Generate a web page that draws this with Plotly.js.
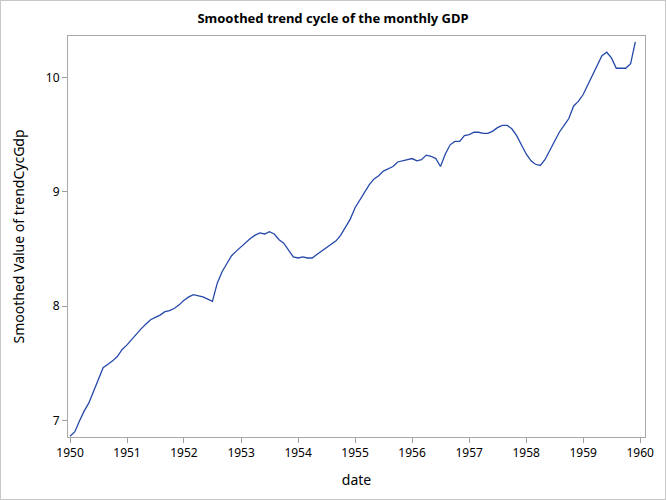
<!DOCTYPE html>
<html>
<head>
<meta charset="utf-8">
<script src="https://cdn.plot.ly/plotly-3.0.1.min.js"></script>
<style>
  body { margin: 0; }
  #wrap { position: relative; width: 666px; height: 500px; }
  #myDiv { width: 666px; height: 500px; }
  #frame { position: absolute; left: 0; top: 0; width: 664px; height: 498px;
           border: 1px solid #c8c8c8; pointer-events: none; }
</style>
</head>
<body>
<div id="wrap">
  <div id="myDiv"></div>
  <div id="frame"></div>
</div>
<script>
// monthly smoothed trend cycle, Jan 1950 .. Dec 1959
var startYear = 1950;
var trendCycGdp = [
  6.86, 6.90, 6.99, 7.08, 7.15, 7.25, 7.36, 7.46, 7.49, 7.52, 7.56, 7.62,  // 1950
  7.66, 7.71, 7.76, 7.80, 7.84, 7.88, 7.90, 7.92, 7.95, 7.96, 7.98, 8.01,  // 1951
  8.05, 8.08, 8.10, 8.09, 8.08, 8.06, 8.04, 8.20, 8.30, 8.37, 8.44, 8.48,  // 1952
  8.52, 8.56, 8.59, 8.62, 8.64, 8.63, 8.65, 8.63, 8.58, 8.55, 8.49, 8.43,  // 1953
  8.42, 8.43, 8.42, 8.42, 8.45, 8.48, 8.51, 8.54, 8.57, 8.62, 8.69, 8.76,  // 1954
  8.86, 8.93, 8.99, 9.06, 9.11, 9.14, 9.18, 9.20, 9.22, 9.26, 9.27, 9.28,  // 1955
  9.29, 9.27, 9.28, 9.32, 9.31, 9.29, 9.22, 9.33, 9.41, 9.44, 9.44, 9.49,  // 1956
  9.50, 9.52, 9.52, 9.51, 9.51, 9.53, 9.56, 9.58, 9.58, 9.55, 9.49, 9.41,  // 1957
  9.33, 9.27, 9.24, 9.23, 9.28, 9.36, 9.44, 9.52, 9.58, 9.64, 9.75, 9.79,  // 1958
  9.85, 9.94, 10.02, 10.11, 10.19, 10.22, 10.17, 10.08, 10.08, 10.08, 10.12, 10.31  // 1959
];
var yTicks = [7, 8, 9, 10];

var dates = [];
for (var i = 0; i < trendCycGdp.length; i++) {
    var yr = startYear + Math.floor(i / 12);
    var mo = (i % 12) + 1;
    dates.push(yr + '-' + (mo < 10 ? '0' + mo : mo) + '-01');
}

var trace1 = {
    x: dates,
    y: trendCycGdp,
    type: 'scatter',
    mode: 'lines',
    line: { color: '#2548aa', width: 1.3 },
    hoverinfo: 'skip'
};

var fam = '"Noto Sans", "Open Sans", sans-serif';
var axisFont = { family: fam, size: 12, color: '#000' };

var layout = {
    width: 666,
    height: 500,
    margin: { l: 68, r: 21, t: 36, b: 63 },
    paper_bgcolor: '#fff',
    plot_bgcolor: '#fff',
    showlegend: false,
    title: {
        text: '<b>Smoothed trend cycle of the monthly GDP</b>',
        font: { family: fam, size: 13, color: '#000' },
        x: 0.5, xanchor: 'center',
        y: 0.964, yanchor: 'middle'
    },
    xaxis: {
        type: 'date',
        range: ['1949-12-19', '1960-02-01'],
        tick0: '1950-01-01',
        dtick: 'M12',
        tickformat: '%Y',
        ticks: 'outside',
        ticklen: 5,
        tickcolor: '#a0a0a0',
        tickfont: axisFont,
        showgrid: false,
        zeroline: false,
        showline: true,
        linecolor: '#a8a8a8',
        linewidth: 1,
        mirror: true,
        title: { text: 'date', font: { family: fam, size: 14, color: '#000' }, standoff: 14 }
    },
    yaxis: {
        range: [6.854, 10.362],
        tickvals: yTicks,
        ticktext: yTicks.map(String),
        ticks: 'outside',
        ticklen: 5,
        tickcolor: '#a0a0a0',
        tickfont: axisFont,
        showgrid: false,
        zeroline: false,
        showline: true,
        linecolor: '#a8a8a8',
        linewidth: 1,
        mirror: true,
        title: { text: 'Smoothed Value of trendCycGdp', font: { family: fam, size: 14, color: '#000' }, standoff: 17 }
    }
};

Plotly.newPlot('myDiv', [trace1], layout, { displayModeBar: false, staticPlot: true });
</script>
</body>
</html>
